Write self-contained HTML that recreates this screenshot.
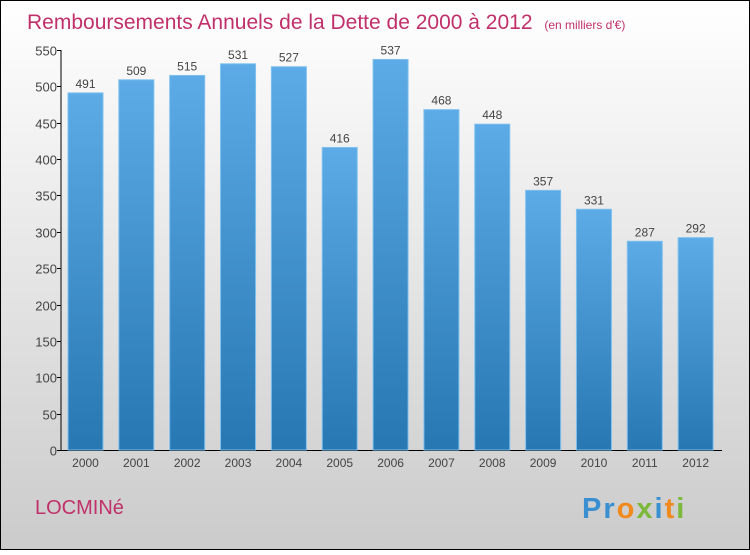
<!DOCTYPE html>
<html><head><meta charset="utf-8"><style>
html,body{margin:0;padding:0}
body{width:750px;height:550px;overflow:hidden;font-family:"Liberation Sans",sans-serif}
</style></head><body>
<svg width="750" height="550" xmlns="http://www.w3.org/2000/svg">
<defs>
<linearGradient id="bg" x1="0" y1="0" x2="0" y2="1"><stop offset="0" stop-color="#ffffff"/><stop offset="1" stop-color="#cbcbcb"/></linearGradient>
<linearGradient id="bar" x1="0" y1="0" x2="0" y2="1"><stop offset="0" stop-color="#5cabe6"/><stop offset="1" stop-color="#2777b3"/></linearGradient>
</defs>
<rect x="0.5" y="0.5" width="749" height="549" fill="url(#bg)" stroke="#000"/>
<text x="27" y="29" font-size="21" fill="#c0306a">Remboursements Annuels de la Dette de 2000 à 2012 <tspan font-size="12" dx="6">(en milliers d'€)</tspan></text>
<g id="plot"></g>
<text x="35" y="514" font-size="20" fill="#c0306a">LOCMINé</text>
<text x="582" y="518" font-size="29" font-weight="bold" letter-spacing="2" fill="#3a8fd0"><tspan fill="#3a8fd0">Pr</tspan><tspan fill="#f08a1c">o</tspan><tspan fill="#7cb83a">x</tspan><tspan fill="#3a8fd0">i</tspan><tspan fill="#f08a1c">t</tspan><tspan fill="#7cb83a">i</tspan></text>
</svg>
<script>
const categories=["2000","2001","2002","2003","2004","2005","2006","2007","2008","2009","2010","2011","2012"];
const values=[491,509,515,531,527,416,537,468,448,357,331,287,292];
const yTicks=[0,50,100,150,200,250,300,350,400,450,500,550];
const NS="http://www.w3.org/2000/svg";
const g=document.getElementById("plot");
const y0=450,y1=50,yMax=550,axisX=61,right=722;
function yS(v){return y0-(v/yMax)*(y0-y1);}
const pitch=(right-axisX)/categories.length;
function xS(i){return axisX+7+i*pitch;}
const bw=35;
function mk(t,a){const e=document.createElementNS(NS,t);for(const k in a)e.setAttribute(k,a[k]);g.appendChild(e);return e;}
let ax=mk("line",{x1:axisX,y1:y1,x2:axisX,y2:y0,stroke:"#000","stroke-width":1});


let bx=mk("line",{x1:axisX,y1:y0+0.5,x2:right,y2:y0+0.5,stroke:"#000","stroke-width":1});


yTicks.forEach(v=>{
 const y=Math.round(yS(v))+0.5;
 const t=mk("line",{x1:axisX-4,y1:y,x2:axisX,y2:y,stroke:"#000"});
 
 
 const l=mk("text",{x:axisX-4,y:y+5,"font-size":13,fill:"#444","text-anchor":"end"});
 l.textContent=v;
 
 
});
categories.forEach((c,i)=>{
 const x=xS(i),y=yS(values[i]);
 const r=mk("rect",{x:x,y:y,width:bw,height:y0-y,fill:"url(#bar)",stroke:"#7fc0ee","stroke-width":1});
 
 
 const v=mk("text",{x:x+bw/2,y:y-5,"font-size":12,fill:"#444","text-anchor":"middle"});
 v.textContent=values[i];
 
 
 const l=mk("text",{x:x+bw/2,y:467,"font-size":12,fill:"#444","text-anchor":"middle"});
 l.textContent=c;
 
 
});
</script>
</body></html>
